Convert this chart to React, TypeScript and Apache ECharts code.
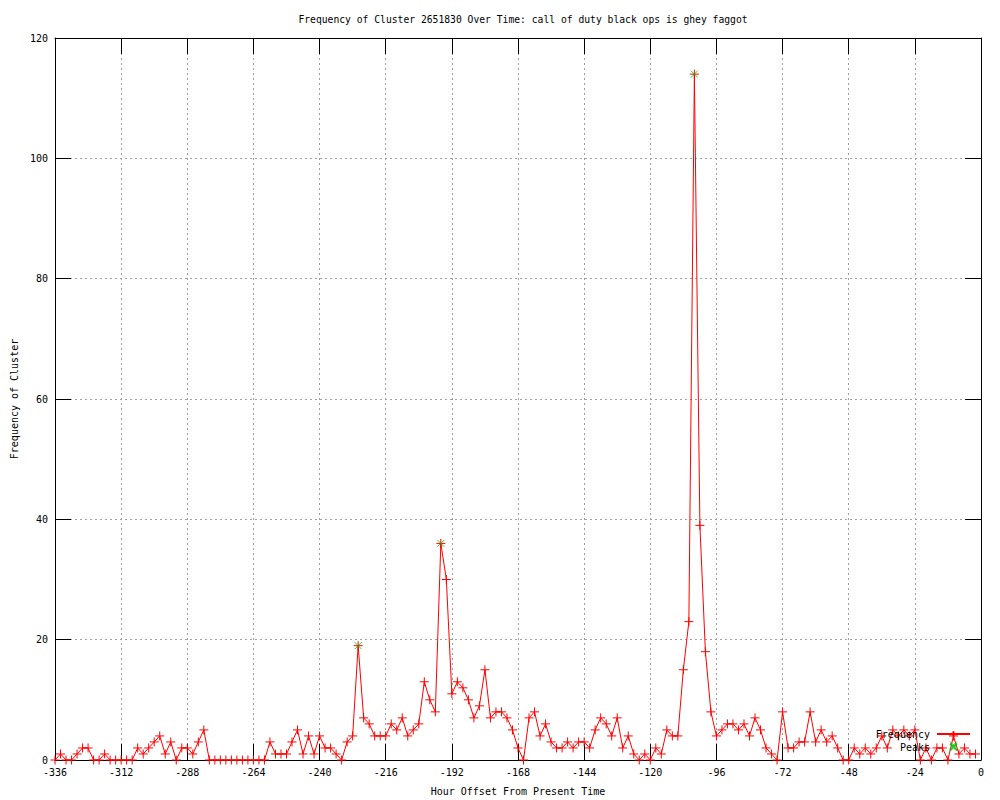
import React, { useEffect, useRef } from "react";
import * as echarts from "echarts";

const titleText = "Frequency of Cluster 2651830 Over Time: call of duty black ops is ghey faggot";
const xAxisName = "Hour Offset From Present Time";
const yAxisName = "Frequency of Cluster";

const hours = [
  -336, -334, -332, -330, -328, -326, -324, -322, -320, -318, -316, -314, -312, -310, -308, -306,
  -304, -302, -300, -298, -296, -294, -292, -290, -288, -286, -284, -282, -280, -278, -276, -274,
  -272, -270, -268, -266, -264, -262, -260, -258, -256, -254, -252, -250, -248, -246, -244, -242,
  -240, -238, -236, -234, -232, -230, -228, -226, -224, -222, -220, -218, -216, -214, -212, -210,
  -208, -206, -204, -202, -200, -198, -196, -194, -192, -190, -188, -186, -184, -182, -180, -178,
  -176, -174, -172, -170, -168, -166, -164, -162, -160, -158, -156, -154, -152, -150, -148, -146,
  -144, -142, -140, -138, -136, -134, -132, -130, -128, -126, -124, -122, -120, -118, -116, -114,
  -112, -110, -108, -106, -104, -102, -100, -98, -96, -94, -92, -90, -88, -86, -84, -82,
  -80, -78, -76, -74, -72, -70, -68, -66, -64, -62, -60, -58, -56, -54, -52, -50,
  -48, -46, -44, -42, -40, -38, -36, -34, -32, -30, -28, -26, -24, -22, -20, -18,
  -16, -14, -12, -10, -8, -6, -4, -2,
];

const frequency = [
  0, 1, 0, 0, 1, 2, 2, 0, 0, 1, 0, 0, 0, 0, 0, 2,
  1, 2, 3, 4, 1, 3, 0, 2, 2, 1, 3, 5, 0, 0, 0, 0,
  0, 0, 0, 0, 0, 0, 0, 3, 1, 1, 1, 3, 5, 1, 4, 1,
  4, 2, 2, 1, 0, 3, 4, 19, 7, 6, 4, 4, 4, 6, 5, 7,
  4, 5, 6, 13, 10, 8, 36, 30, 11, 13, 12, 10, 7, 9, 15, 7,
  8, 8, 7, 5, 2, 0, 7, 8, 4, 6, 3, 2, 2, 3, 2, 3,
  3, 2, 5, 7, 6, 4, 7, 2, 4, 1, 0, 1, 0, 2, 1, 5,
  4, 4, 15, 23, 114, 39, 18, 8, 4, 5, 6, 6, 5, 6, 4, 7,
  5, 2, 1, 0, 8, 2, 2, 3, 3, 8, 3, 5, 3, 4, 2, 0,
  0, 2, 1, 2, 1, 2, 4, 2, 5, 4, 5, 4, 5, 0, 2, 0,
  2, 2, 0, 4, 1, 2, 1, 1,
];

const peakHours = [-226, -196, -104, -10];
const peakValues = [19, 36, 114, 2.5];

const xTickMin = -336;
const xTickMax = 0;
const xTickStep = 24;
const yTickMin = 0;
const yTickMax = 120;
const yTickStep = 20;

const FONT = "DejaVu Sans Mono";
const RED = "#ff0000";
const GREEN = "#00c000";
const PLUS = "path://M5,0 L5,10 M0,5 L10,5";
const CROSS = "path://M0,0 L10,10 M10,0 L0,10";

export default function App() {
  const ref = useRef<HTMLDivElement>(null);

  useEffect(() => {
    if (!ref.current) return;
    const chart = echarts.init(ref.current, undefined, { renderer: "svg" });

    const freqData = hours.map((h, i) => [h, frequency[i]]);
    const peakData = peakHours.map((h, i) => [h, peakValues[i]]);

    const gridLine = {
      show: true,
      lineStyle: { color: "#a0a0a0", width: 1, type: [2, 3] as any },
    };
    const tick = {
      show: true,
      inside: true,
      length: 16,
      lineStyle: { color: "#000", width: 1 },
    };
    const axisLine = { show: true, onZero: false, lineStyle: { color: "#000", width: 1 } };
    const labelStyle = { color: "#000", fontFamily: FONT, fontSize: 10 };

    chart.setOption({
      animation: false,
      backgroundColor: "#fff",
      textStyle: { fontFamily: FONT },
      title: {
        text: titleText,
        left: 518,
        textAlign: "center",
        top: 9,
        textStyle: { fontFamily: FONT, fontSize: 9.7, fontWeight: "normal", color: "#000" },
      },
      grid: {
        left: 55,
        right: 19,
        top: 38,
        bottom: 40,
        containLabel: false,
        outerBoundsMode: "none",
      },
      legend: {
        orient: "vertical",
        right: 24,
        top: 724,
        align: "right",
        itemWidth: 33,
        itemHeight: 7,
        itemGap: 3,
        textStyle: { fontFamily: FONT, fontSize: 10, color: "#000", padding: [0, 2, 0, 0] },
        data: [{ name: "Frequency" }, { name: "Peaks" }],
      },
      xAxis: [
        {
          type: "value",
          min: xTickMin,
          max: xTickMax,
          interval: xTickStep,
          name: xAxisName,
          nameLocation: "middle",
          nameGap: 26,
          nameTextStyle: { fontFamily: FONT, fontSize: 10, color: "#000" },
          axisLine,
          axisTick: tick,
          axisLabel: { ...labelStyle, margin: 7 },
          splitLine: gridLine,
        },
        {
          type: "value",
          position: "top",
          min: xTickMin,
          max: xTickMax,
          interval: xTickStep,
          axisLine,
          axisTick: tick,
          axisLabel: { show: false },
          splitLine: { show: false },
        },
      ],
      yAxis: [
        {
          type: "value",
          min: yTickMin,
          max: yTickMax,
          interval: yTickStep,
          name: yAxisName,
          nameLocation: "middle",
          nameGap: 36,
          nameRotate: 90,
          nameTextStyle: { fontFamily: FONT, fontSize: 10, color: "#000" },
          axisLine,
          axisTick: tick,
          axisLabel: { ...labelStyle, margin: 7 },
          splitLine: gridLine,
        },
        {
          type: "value",
          position: "right",
          min: yTickMin,
          max: yTickMax,
          interval: yTickStep,
          axisLine,
          axisTick: tick,
          axisLabel: { show: false },
          splitLine: { show: false },
        },
      ],
      series: [
        {
          name: "Frequency",
          type: "line",
          xAxisIndex: 0,
          yAxisIndex: 0,
          data: freqData,
          symbol: PLUS,
          symbolSize: 9,
          showSymbol: true,
          showAllSymbol: true,
          clip: false,
          lineStyle: { color: RED, width: 1 },
          itemStyle: { color: RED, borderColor: RED, borderWidth: 1 },
          emphasis: { disabled: true },
          z: 2,
        },
        {
          name: "Peaks",
          type: "scatter",
          xAxisIndex: 0,
          yAxisIndex: 0,
          data: peakData,
          symbol: CROSS,
          symbolSize: 7,
          itemStyle: { color: GREEN, borderColor: GREEN, borderWidth: 1 },
          emphasis: { disabled: true },
          z: 3,
        },
      ],
    });

    return () => chart.dispose();
  }, []);

  return (
    <div
      ref={ref}
      style={{ position: "absolute", left: 0, top: 0, width: 1000, height: 800, background: "#fff" }}
    />
  );
}
